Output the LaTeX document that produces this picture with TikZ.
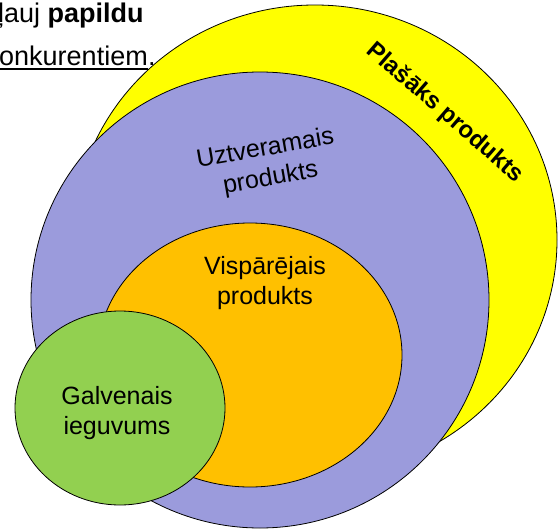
\documentclass[tikz,border=0pt]{standalone}
\usepackage{fontspec}
\setmainfont{Liberation Sans}
\definecolor{yel}{RGB}{255,255,0}
\definecolor{lav}{RGB}{155,155,220}
\definecolor{ora}{RGB}{255,192,0}
\definecolor{grn}{RGB}{146,208,80}
\begin{document}
\begin{tikzpicture}[x=1pt,y=-1pt,
  blob/.style={draw=black,line width=0.8pt},
  lbl/.style={align=center,inner sep=0pt,font=\fontsize{25}{30}\selectfont},
  toptxt/.style={anchor=base west,inner sep=0pt,font=\fontsize{27}{32}\selectfont}]
\useasboundingbox (0,0) rectangle (560,530);
\clip (0,0) rectangle (560,530);
\fill[white] (0,0) rectangle (560,530);
\path[blob,fill=yel] (315,240) ellipse [x radius=242pt, y radius=235pt];
\path[blob,fill=lav] (260,300) ellipse [x radius=229pt, y radius=228pt];
\path[blob,fill=ora] (250,355) ellipse [x radius=152pt, y radius=132pt];
\path[blob,fill=grn] (120,408) ellipse [x radius=105pt, y radius=97pt];
\node[lbl,rotate=-41,font=\bfseries\fontsize{24}{28}\selectfont] (plas) at (445,113) {Plašāks produkts};
\node[lbl,rotate=10] (uzt) at (268,164) {Uztveramais\\produkts};
\node[lbl] (visp) at (265,283) {Vispārējais\\produkts};
\node[lbl] (galv) at (117,413) {Galvenais\\ieguvums};
\node[toptxt] (t1) at (-2,22) {ļauj \textbf{papildu}};
\node[toptxt] (t2) at (-1,65) {onkurentiem};
\node[toptxt] (t3) at (t2.base east) {.};
\draw[line width=1.6pt] ([yshift=-4pt]t2.base west) -- ([yshift=-4pt]t2.base east);
\end{tikzpicture}
\end{document}
